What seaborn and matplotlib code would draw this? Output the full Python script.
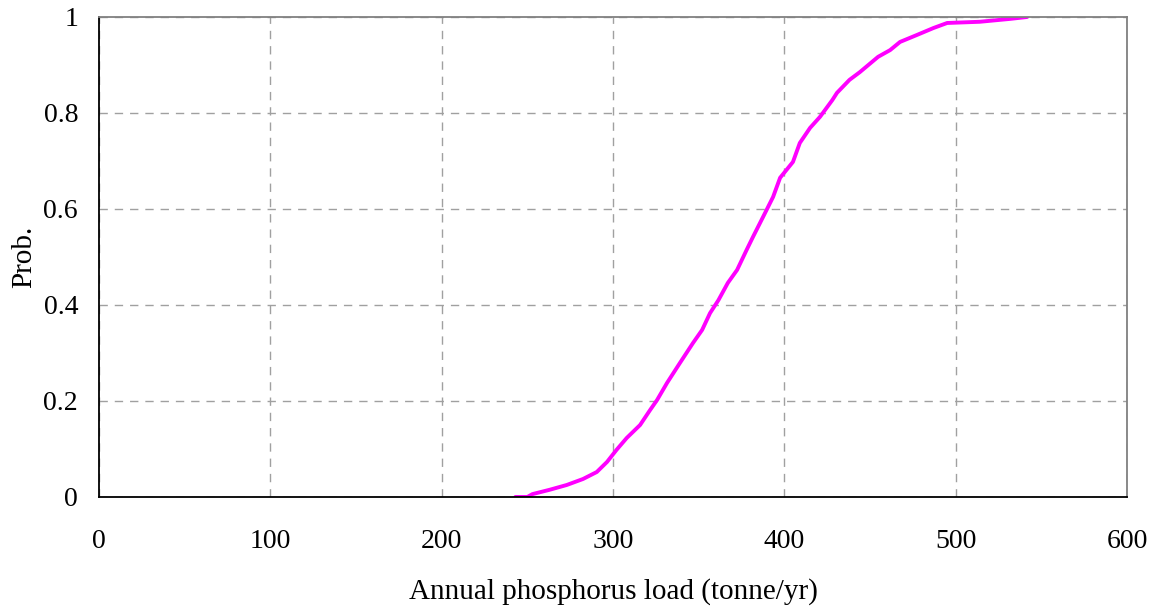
import matplotlib
matplotlib.use("Agg")
import matplotlib.pyplot as plt
import seaborn as sns
import pandas as pd

# CDF of annual phosphorus load
load = [243, 250, 253, 263, 273, 282.5, 290.5, 296.5, 302, 308, 315.8, 321.6, 325.7,
        331.5, 339, 346.7, 352, 356.6, 361.5, 367, 372.4, 376, 378, 381.7, 387.5,
        393.4, 397.5, 405, 409, 415, 420.8, 428, 430.7, 438, 444, 454.7, 461.7,
        467.5, 477, 487, 495, 514, 531.7, 541.7]
prob = [0.0, 0.0, 0.006, 0.015, 0.025, 0.0375, 0.052, 0.073, 0.098, 0.123, 0.15,
        0.181, 0.202, 0.2375, 0.279, 0.321, 0.348, 0.383, 0.41, 0.446, 0.473, 0.5,
        0.515, 0.542, 0.583, 0.625, 0.665, 0.698, 0.7375, 0.769, 0.792, 0.827, 0.842,
        0.869, 0.885, 0.917, 0.931, 0.948, 0.962, 0.977, 0.9875, 0.99, 0.996, 1.0]

x_ticks = [0, 100, 200, 300, 400, 500, 600]
y_ticks = [0, 0.2, 0.4, 0.6, 0.8, 1]
y_tick_labels = ["0", "0.2", "0.4", "0.6", "0.8", "1"]

df = pd.DataFrame({"load": load, "prob": prob})

sns.set_style("white")
plt.rcParams["font.family"] = ["Liberation Serif", "DejaVu Serif"]
plt.rcParams["text.color"] = "black"
plt.rcParams["axes.labelcolor"] = "black"

fig = plt.figure(figsize=(11.56, 6.15), dpi=100)
ax = fig.add_axes([0.0856, 0.1919, 0.975 - 0.0856, 0.9724 - 0.1919])

sns.lineplot(data=df, x="load", y="prob", ax=ax, color="#ff00ff", linewidth=2.8,
             sort=False, estimator=None)

ax.set_xlim(0, 600)
ax.set_ylim(0, 1)
ax.set_xticks(x_ticks)
ax.set_xticklabels([str(t) for t in x_ticks])
ax.set_yticks(y_ticks)
ax.set_yticklabels(y_tick_labels)

ax.grid(True, color="#a0a0a0", linestyle=(0, (6, 5)), linewidth=1.0)
ax.set_axisbelow(True)

for side in ["left", "bottom"]:
    ax.spines[side].set_color("black")
    ax.spines[side].set_linewidth(1.3)
for side in ["top", "right"]:
    ax.spines[side].set_color("#808080")
    ax.spines[side].set_linewidth(1.3)

ax.tick_params(axis="x", direction="in", length=5, width=1, pad=23, labelsize=20,
               colors="black")
ax.tick_params(axis="y", direction="in", length=5, width=1, pad=15, labelsize=20,
               colors="black")

ax.set_xlabel("Annual phosphorus load (tonne/yr)", fontsize=21)
ax.set_ylabel("Prob.", fontsize=21)
ax.xaxis.set_label_coords(0.5, -0.168)
ax.yaxis.set_label_coords(-0.060, 0.5)

fig.savefig("out.png", dpi=100, facecolor="white")
